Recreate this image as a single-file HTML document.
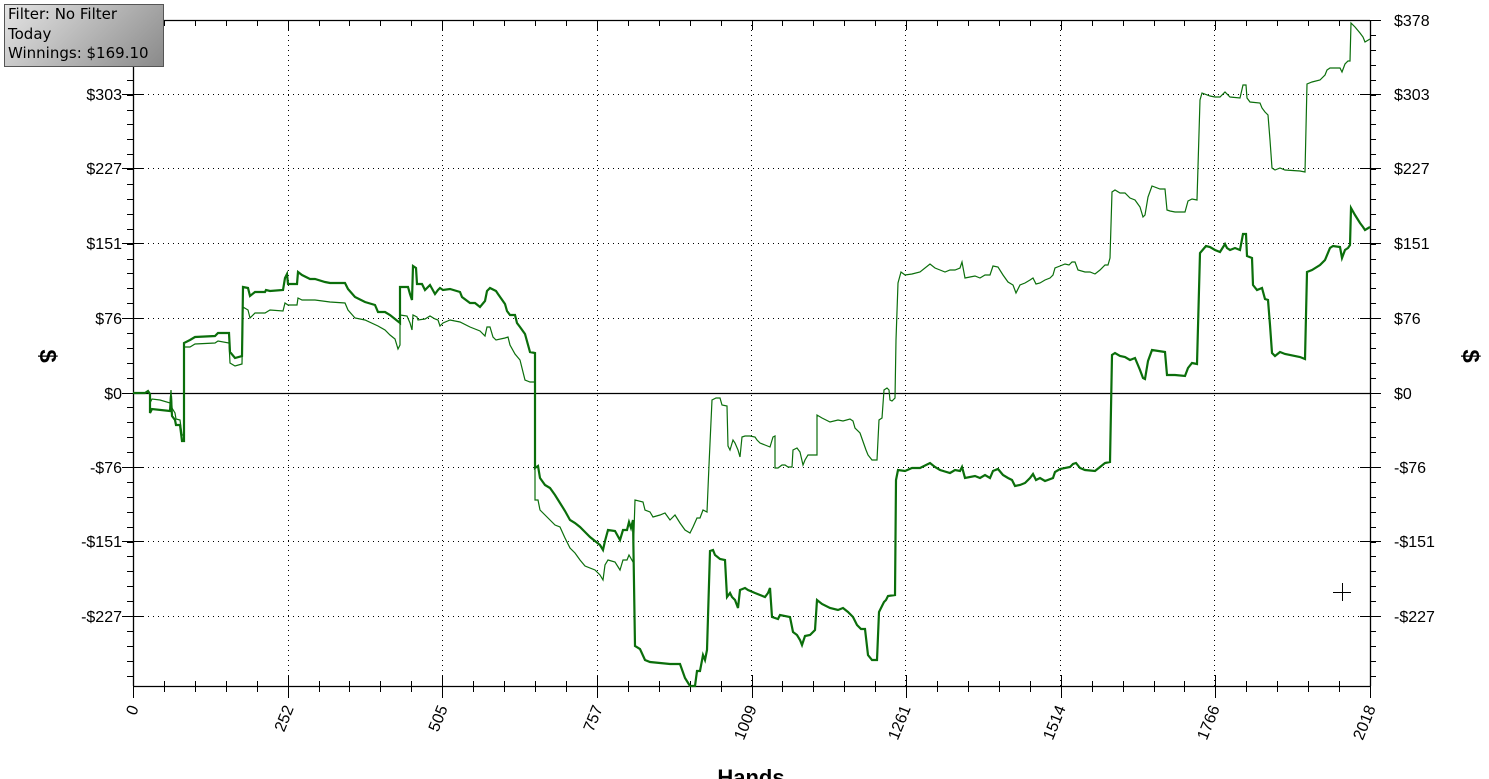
<!DOCTYPE html>
<html><head><meta charset="utf-8"><style>
html,body{margin:0;padding:0;background:#fff;width:1489px;height:779px;overflow:hidden}
svg text{font-family:"Liberation Sans","DejaVu Sans",sans-serif;}
.box{position:absolute;left:4px;top:4px;width:160px;height:63px;border:1px solid #555;background:linear-gradient(135deg,#e4e4e4,#8a8a8a);font-family:"DejaVu Sans","Liberation Sans",sans-serif;font-size:15px;line-height:19.5px;color:#000;padding-left:3px;box-sizing:border-box}
</style></head><body>
<svg width="1489" height="779" xmlns="http://www.w3.org/2000/svg" style="position:absolute;left:0;top:0">
<g stroke="#000" stroke-width="1" stroke-dasharray="1,4" fill="none">
<line x1="133" y1="94.5" x2="1370" y2="94.5"/><line x1="133" y1="168.5" x2="1370" y2="168.5"/><line x1="133" y1="243.5" x2="1370" y2="243.5"/><line x1="133" y1="318.5" x2="1370" y2="318.5"/><line x1="133" y1="467.5" x2="1370" y2="467.5"/><line x1="133" y1="541.5" x2="1370" y2="541.5"/><line x1="133" y1="616.5" x2="1370" y2="616.5"/>
<line x1="288.5" y1="20" x2="288.5" y2="686"/><line x1="442.5" y1="20" x2="442.5" y2="686"/><line x1="597.5" y1="20" x2="597.5" y2="686"/><line x1="751.5" y1="20" x2="751.5" y2="686"/><line x1="905.5" y1="20" x2="905.5" y2="686"/><line x1="1060.5" y1="20" x2="1060.5" y2="686"/><line x1="1214.5" y1="20" x2="1214.5" y2="686"/>
</g>
<g stroke="#000" stroke-width="1.3" fill="none">
<line x1="133" y1="20.5" x2="1370" y2="20.5"/><line x1="133" y1="686.5" x2="1370" y2="686.5"/>
<line x1="133.5" y1="20" x2="133.5" y2="686"/><line x1="1370.5" y1="20" x2="1370.5" y2="686"/>
<line x1="133" y1="393.5" x2="1370" y2="393.5"/>
</g>
<g id="ticks" stroke="#000" stroke-width="1"></g>
<g fill="#000" font-size="16" text-anchor="end">
<text x="122" y="100">$303</text><text x="122" y="174">$227</text><text x="122" y="249">$151</text><text x="122" y="324">$76</text><text x="122" y="399">$0</text><text x="122" y="473">-$76</text><text x="122" y="547">-$151</text><text x="122" y="622">-$227</text>
</g>
<g fill="#000" font-size="16" text-anchor="start">
<text x="1394" y="26">$378</text><text x="1394" y="100">$303</text><text x="1394" y="174">$227</text><text x="1394" y="249">$151</text><text x="1394" y="324">$76</text><text x="1394" y="399">$0</text><text x="1394" y="473">-$76</text><text x="1394" y="547">-$151</text><text x="1394" y="622">-$227</text>
</g>
<g fill="#000" font-size="16" text-anchor="end">
<text transform="translate(139,708) rotate(-68)">0</text>
<text transform="translate(294,708) rotate(-68)">252</text>
<text transform="translate(448,708) rotate(-68)">505</text>
<text transform="translate(603,708) rotate(-68)">757</text>
<text transform="translate(757,708) rotate(-68)">1009</text>
<text transform="translate(911,708) rotate(-68)">1261</text>
<text transform="translate(1066,708) rotate(-68)">1514</text>
<text transform="translate(1220,708) rotate(-68)">1766</text>
<text transform="translate(1376,708) rotate(-68)">2018</text>
</g>
<text transform="translate(40,356) rotate(90)" font-size="24" font-weight="bold" text-anchor="middle">$</text>
<text transform="translate(1463,356) rotate(90)" font-size="24" font-weight="bold" text-anchor="middle">$</text>
<text x="751" y="785" font-size="22" font-weight="bold" text-anchor="middle">Hands</text>
<g stroke="#000" stroke-width="1"><line x1="1333" y1="592.5" x2="1351" y2="592.5"/><line x1="1342.5" y1="583" x2="1342.5" y2="601"/></g>
<polyline fill="none" stroke="#0b6e0b" stroke-width="1.2" points="133,393 145,393 148,391 150,394 150,403 152,399 160,400 170,403 171,390 172,408 175,413 176,419 180,420 182,435 184,435 184,347 190,347 195,344 215,343 218,341 229,343 230,363 235,366 242,364 243,307 248,310 250,318 255,313 265,313 270,310 283,311 285,303 288,305 297,305 298,298 302,300 315,300 330,302 345,303 348,310 355,318 365,320 378,326 385,330 390,335 395,339 398,349 400,345 400,315 407,316 410,323 412,330 413,315 417,317 418,320 425,319 430,316 435,319 438,320 440,326 443,323 450,320 460,322 470,327 480,331 485,336 487,327 490,327 493,337 496,340 505,338 508,337 510,345 515,354 520,360 525,380 530,382 535,382 535,500 538,500 540,510 545,515 550,520 555,525 560,527 565,538 570,548 575,553 580,560 585,566 595,570 600,575 603,580 605,565 608,560 615,562 620,570 623,560 627,560 629,555 633,562 635,500 643,502 645,510 650,512 653,517 660,515 665,513 670,520 675,515 680,523 685,530 690,533 693,527 697,518 700,518 703,510 707,512 709,465 712,400 716,398 720,398 722,405 727,406 728,446 730,450 733,440 735,443 738,450 740,457 742,437 745,436 750,436 755,437 757,440 760,443 765,445 770,447 773,437 775,436 775,468 778,468 782,465 785,465 788,467 792,467 793,450 797,448 800,452 803,465 805,460 808,455 817,455 817,415 822,418 830,422 838,420 843,421 850,419 853,421 855,428 860,433 866,450 868,455 872,460 877,460 879,420 882,418 884,390 887,388 889,390 890,400 892,401 895,398 896,340 898,283 901,272 905,275 912,274 920,272 930,264 935,268 940,270 945,272 950,270 955,270 960,268 962,262 965,278 970,277 975,276 980,278 985,275 990,275 993,266 998,267 1003,275 1008,282 1013,285 1016,293 1020,285 1025,283 1030,280 1033,278 1036,284 1040,283 1045,280 1050,278 1053,275 1055,268 1060,266 1065,264 1069,265 1072,262 1075,262 1078,270 1085,272 1090,272 1095,274 1100,270 1105,265 1108,265 1110,258 1112,192 1115,190 1120,193 1125,193 1130,198 1135,200 1140,207 1143,217 1145,215 1148,197 1152,186 1160,189 1165,189 1167,210 1170,211 1175,212 1185,212 1188,201 1192,199 1197,200 1200,100 1202,93 1210,96 1215,97 1220,97 1225,92 1230,97 1240,98 1243,85 1246,85 1247,98 1250,102 1260,103 1262,108 1265,112 1268,115 1270,140 1272,168 1275,170 1280,168 1285,170 1300,171 1305,172 1307,84 1312,82 1320,80 1325,75 1327,70 1330,68 1340,68 1342,72 1345,64 1348,61 1350,61 1351,23 1355,27 1360,33 1363,37 1365,42 1370,39"/>
<polyline fill="none" stroke="#0b6e0b" stroke-width="2.2" points="133,393 145,393 148,391 150,394 150,413 152,409 170,411 171,396 172,416 175,420 176,425 180,425 182,441 184,441 184,343 190,340 195,337 215,336 218,333 229,333 230,352 235,358 242,356 243,287 248,288 250,296 255,292 265,292 266,290 270,291 283,290 285,278 287,274 288,284 297,284 298,272 302,275 310,279 315,279 325,282 330,283 345,283 348,289 355,297 365,302 375,305 378,312 385,312 390,315 395,319 400,323 400,287 408,287 410,294 412,300 413,266 416,268 417,284 422,284 425,290 430,285 435,294 438,290 440,288 443,290 450,289 460,292 462,297 470,303 475,303 480,307 485,301 487,291 490,288 496,291 498,294 505,304 507,311 510,315 515,315 517,323 520,327 525,334 530,352 535,353 535,468 538,466 540,478 545,485 550,488 555,495 560,503 565,511 570,520 575,523 580,527 585,532 590,537 595,541 600,545 603,550 605,541 608,530 615,531 620,540 623,530 627,530 629,522 631,528 633,520 635,646 640,649 645,660 650,662 670,664 680,664 685,678 690,686 695,686 697,671 700,671 703,655 705,660 707,650 710,551 713,550 715,555 720,559 725,560 727,597 730,593 732,597 735,600 738,608 740,590 745,588 748,590 755,593 765,597 768,593 770,588 772,617 778,619 780,615 790,617 793,632 797,635 800,640 802,645 805,636 810,635 815,630 817,600 822,604 830,608 838,610 843,608 848,612 853,617 857,625 861,629 865,629 868,655 872,660 877,660 879,612 882,606 884,602 886,600 888,596 895,595 896,480 898,470 905,471 912,468 920,468 930,463 935,467 940,470 950,473 955,470 960,471 962,467 965,478 975,476 980,478 985,475 990,478 993,471 998,469 1003,475 1008,478 1012,480 1015,486 1020,485 1025,483 1030,478 1033,474 1036,480 1040,478 1045,481 1053,478 1055,472 1060,469 1070,467 1073,464 1076,463 1080,468 1085,470 1095,471 1100,467 1105,463 1110,462 1112,355 1115,353 1120,356 1125,357 1130,360 1135,358 1140,370 1143,378 1145,379 1148,361 1152,350 1165,352 1167,375 1175,375 1185,376 1188,368 1192,363 1197,364 1200,253 1206,246 1210,247 1215,250 1220,252 1225,244 1227,248 1230,250 1235,248 1240,250 1243,234 1246,234 1247,256 1252,258 1253,285 1257,290 1262,288 1265,299 1268,300 1270,325 1272,353 1275,356 1280,352 1285,354 1300,357 1305,359 1307,272 1312,270 1320,265 1325,260 1330,248 1333,246 1340,247 1342,258 1345,250 1348,248 1350,245 1351,208 1355,215 1360,223 1363,227 1365,230 1370,227"/>
</svg>
<div class="box">Filter: No Filter<br>Today<br>Winnings: $169.10</div>
<script>
var g=document.getElementById('ticks'),s='';
var majY=[94,168,243,318,393,467,541,616];
for(var y=35;y<686;y+=14.9){var yy=Math.round(y)+.5;s+='<line x1="127" y1="'+yy+'" x2="133" y2="'+yy+'"/><line x1="1370" y1="'+yy+'" x2="1376" y2="'+yy+'"/>';}
majY.concat([20]).forEach(function(y){s+='<line x1="122" y1="'+(y+.5)+'" x2="143" y2="'+(y+.5)+'"/><line x1="1360" y1="'+(y+.5)+'" x2="1381" y2="'+(y+.5)+'"/>';});
for(var i=0;i<=40;i++){var x=Math.round(133+i*1237/40)+.5;if(i%5==0){s+='<line x1="'+x+'" y1="675" x2="'+x+'" y2="698"/><line x1="'+x+'" y1="20" x2="'+x+'" y2="30"/>';}else{s+='<line x1="'+x+'" y1="681" x2="'+x+'" y2="692"/><line x1="'+x+'" y1="20" x2="'+x+'" y2="26"/>';}}
g.innerHTML=s;
</script>
</body></html>
